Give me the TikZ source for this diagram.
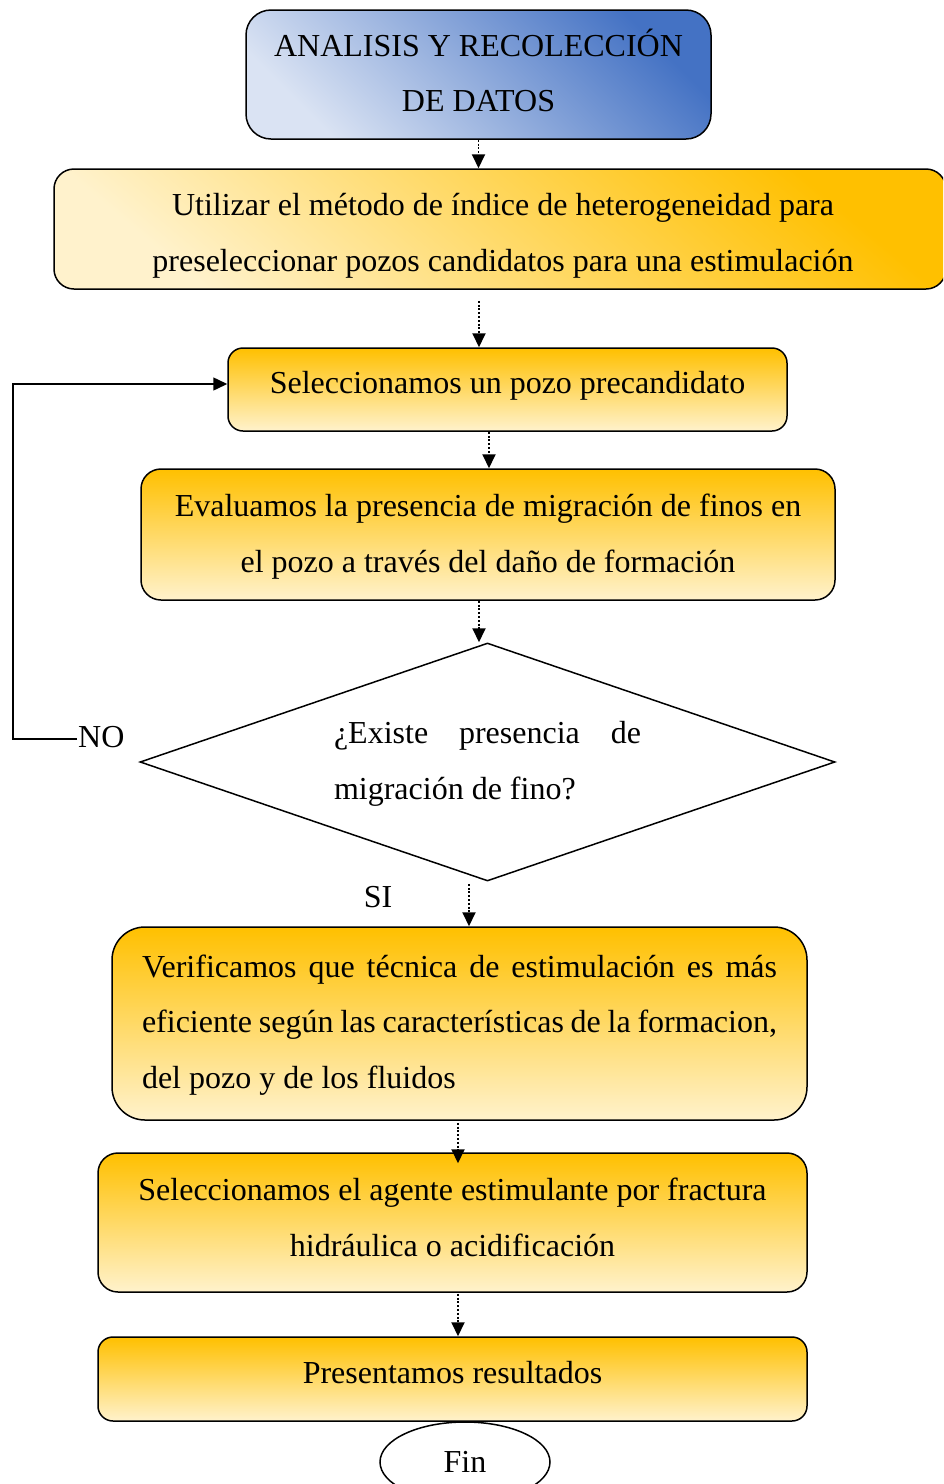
\documentclass[tikz,border=0pt]{standalone}
\usepackage{fontspec}
\setmainfont{Liberation Serif}
\usetikzlibrary{arrows.meta,shapes.geometric}
\definecolor{oraD}{HTML}{FFC000}
\definecolor{oraL}{HTML}{FFF2CC}
\definecolor{bluD}{HTML}{4472C4}
\definecolor{bluL}{HTML}{DAE3F3}
\begin{document}
\begin{tikzpicture}[x=1pt,y=-1pt,
  txt/.style={font=\fontsize{32}{55.5}\selectfont, inner sep=0pt, align=center},
  box/.style={draw=black, line width=1.5pt, inner sep=0pt},
  orav/.style={top color=oraD, bottom color=oraL},
  orad/.style={top color=oraD, bottom color=oraL, shading angle=-40},
  blud/.style={top color=bluD, bottom color=bluL, shading angle=-45},
  arr/.style={line width=1.9pt, dash pattern=on 2pt off 1.8pt, -{Triangle[width=13pt,length=14pt]}},
  link/.style={line width=1.5pt, -{Triangle[width=13pt,length=14pt]}},
]
\clip (0,0) rectangle (943,1484);
\fill[white] (0,0) rectangle (943,1484);

\node[box, blud, rounded corners=25pt, minimum width=465pt, minimum height=129pt] (A) at (478.5,74.5) {};
\node[txt] (At) at ([yshift=4pt]A.center) {ANALISIS Y RECOLECCIÓN\\DE DATOS};

\node[box, orad, rounded corners=20pt, minimum width=892pt, minimum height=120pt] (B) at (500,229) {};
\node[txt] (Bt) at ([xshift=3pt,yshift=-7pt]B.center)
  {Utilizar el método de índice de heterogeneidad para\\preseleccionar pozos candidatos para una estimulación};

\node[box, orav, rounded corners=15pt, minimum width=559pt, minimum height=83pt] (C) at (507.5,389.5) {};
\node[txt] (Ct) at ([yshift=4pt]C.center) {Seleccionamos un pozo precandidato};

\node[box, orav, rounded corners=20pt, minimum width=694pt, minimum height=131pt] (D) at (488,534.5) {};
\node[txt] (Dt) at ([yshift=-2pt]D.center)
  {Evaluamos la presencia de migración de finos en\\el pozo a través del daño de formación};

\node[draw=black, line width=1.5pt, diamond, inner sep=0pt, minimum width=695pt, minimum height=238pt] (Q) at (487.5,762) {};
\node[txt] (Qt) at ([yshift=-2pt]Q.center)
  {\parbox{307pt}{\makebox[307pt][s]{¿Existe presencia de}\\migración de fino?}};

\node[box, orav, rounded corners=33pt, minimum width=695pt, minimum height=193pt] (E) at (459.5,1023.5) {};
\node[txt] (Et) at ([yshift=-1.5pt]E.center)
  {\parbox{635pt}{\makebox[635pt][s]{Verificamos que técnica de estimulación es más}\\\makebox[635pt][s]{eficiente según las características de la formacion,}\\del pozo y de los fluidos}};

\node[box, orav, rounded corners=20pt, minimum width=709pt, minimum height=139pt] (F) at (452.5,1222.5) {};
\node[txt] (Ft) at ([yshift=5pt]F.center)
  {Seleccionamos el agente estimulante por fractura\\hidráulica o acidificación};

\node[box, orav, rounded corners=15pt, minimum width=709pt, minimum height=84pt] (G) at (452.5,1379) {};
\node[txt] (Gt) at ([yshift=6pt]G.center) {Presentamos resultados};

\node[txt, draw=black, line width=1.5pt, ellipse, minimum width=170pt, minimum height=80pt] (fin) at (465,1462) {Fin};

\node[txt, inner sep=1pt, anchor=west] (no) at (77,737) {NO};
\node[txt] (si) at (378,897) {SI};

\coordinate (x479) at (479,0);
\coordinate (x489) at (489,0);
\coordinate (x469) at (469,0);
\coordinate (x458) at (458,0);
\coordinate (xl) at (13,0);

\draw[arr] (A.south) -- (A.south |- B.north);
\draw[arr] ([yshift=-11pt]B.south -| x479) -- (x479 |- C.north);
\draw[arr] (C.south -| x489) -- (x489 |- D.north);
\draw[arr] (D.south -| x479) -- (x479 |- Q.north);
\draw[arr] ([yshift=-2pt]Q.south -| x469) -- (x469 |- E.north);
\draw[arr] ([yshift=-2pt]E.south -| x458) -- ([yshift=-11pt]x458 |- F.north);
\draw[arr] ([yshift=-1pt]F.south -| x458) -- (x458 |- G.north);

\draw[link] ([yshift=-2pt]no.west) -- ([yshift=-2pt]no.west -| xl) |- ([yshift=5.5pt]C.west);
\end{tikzpicture}
\end{document}
